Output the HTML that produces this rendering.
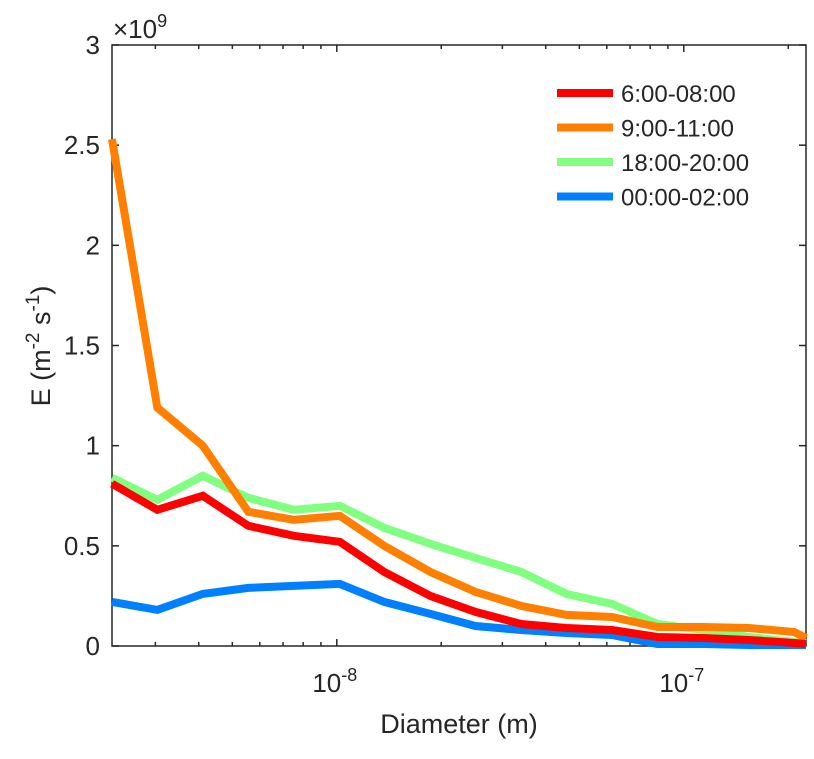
<!DOCTYPE html>
<html><head><meta charset="utf-8"><style>
body{margin:0;background:#fff;}
svg text{font-family:"Liberation Sans",sans-serif;fill:#262626;}
</style></head><body>
<svg id="chart" width="814" height="754">
<g id="axes"></g><g id="series"></g><g id="legend"></g>
</svg>
<script>
const seriesNames=["6:00-08:00","9:00-11:00","18:00-20:00","00:00-02:00"];
const seriesColors=["#ff0000","#ff8000","#80ff80","#0080ff"];
const red=[0.81,0.68,0.75,0.60,0.55,0.52,0.37,0.25,0.17,0.11,0.09,0.08,0.045,0.04,0.03,0.015,0.01];
const orange=[2.53,1.19,1.00,0.67,0.63,0.65,0.50,0.37,0.27,0.20,0.155,0.145,0.095,0.095,0.09,0.07,0.04];
const green=[0.84,0.73,0.85,0.74,0.68,0.70,0.59,0.51,0.44,0.37,0.26,0.21,0.11,0.08,0.045,0.02,0.015];
const blue=[0.22,0.18,0.26,0.29,0.30,0.31,0.22,0.16,0.10,0.08,0.065,0.055,0.01,0.01,0.005,0.005,0.005];
const diameters=[2.25e-9,3.04e-9,4.11e-9,5.56e-9,7.52e-9,1.02e-8,1.37e-8,1.86e-8,2.51e-8,3.40e-8,4.59e-8,6.21e-8,8.40e-8,1.14e-7,1.54e-7,2.08e-7,2.25e-7];
const yTicks=[0,0.5,1,1.5,2,2.5,3];
const yTickLabels=["0","0.5","1","1.5","2","2.5","3"];
const xMajor=[1e-8,1e-7];
const L=112,R=806,T=45,B=646;
const xmin=Math.log10(2.25e-9),xmax=Math.log10(2.25e-7);
const X=d=>L+(Math.log10(d)-xmin)/(xmax-xmin)*(R-L);
const Y=v=>B-v/3*(B-T);
const NS="http://www.w3.org/2000/svg";
function mk(tag,attrs,parent,txt){const e=document.createElementNS(NS,tag);for(const k in attrs)e.setAttribute(k,attrs[k]);if(txt!==undefined)e.textContent=txt;parent.appendChild(e);return e;}
const ax=document.getElementById('axes');
let box=mk('rect',{x:L,y:T,width:R-L,height:B-T,fill:'none',stroke:'#262626','stroke-width':1.5},ax);


yTicks.forEach((v,i)=>{
  const y=Y(v);
  mk('line',{x1:L,x2:L+7,y1:y,y2:y,stroke:'#262626','stroke-width':1.5},ax);
  mk('line',{x1:R,x2:R-7,y1:y,y2:y,stroke:'#262626','stroke-width':1.5},ax);
  const t=mk('text',{x:L-12,y:y+9,'text-anchor':'end','font-size':26},ax,yTickLabels[i]);
  
  
});
for(let e=-9;e<=-7;e++){for(let m=1;m<10;m++){const d=m*Math.pow(10,e);if(d<2.25e-9||d>2.25e-7)continue;const x=X(d);const len=m===1?7:4;
  mk('line',{x1:x,x2:x,y1:B,y2:B-len,stroke:'#262626','stroke-width':1.5},ax);mk('line',{x1:x,x2:x,y1:T,y2:T+len,stroke:'#262626','stroke-width':1.5},ax);}}
xMajor.forEach(d=>{const x=X(d);
  const t=mk('text',{x:x-2,y:B+46,'text-anchor':'middle','font-size':26},ax);
  
  
  mk('tspan',{},t,'10');mk('tspan',{dy:-11,'font-size':18},t,String(Math.round(Math.log10(d))));
});
let ex=mk('text',{x:113,y:38,'font-size':26},ax);


mk('tspan',{},ex,'\u00d710');mk('tspan',{dy:-11,'font-size':18},ex,'9');
let xt=mk('text',{x:459,y:733,'text-anchor':'middle','font-size':27},ax,'Diameter (m)');


let yt=mk('text',{transform:'translate(50,346) rotate(-90)','text-anchor':'middle','font-size':27},ax);


mk('tspan',{},yt,'E (m');mk('tspan',{dy:-11,'font-size':19},yt,'-2');mk('tspan',{dy:11},yt,' s');mk('tspan',{dy:-11,'font-size':19},yt,'-1');mk('tspan',{dy:11},yt,')');
const allSeries=[red,orange,green,blue];
const sg=document.getElementById('series');
const order=[3,2,1,0];
order.forEach(i=>{
  const pts=allSeries[i].map((v,k)=>X(diameters[k]).toFixed(1)+','+Y(v).toFixed(1)).join(' ');
  const p=mk('polyline',{points:pts,fill:'none',stroke:seriesColors[i],'stroke-width':8,'stroke-linejoin':'miter'},sg);
  
  
});
const lg=document.getElementById('legend');
seriesNames.forEach((n,i)=>{const y=93+i*34.5;
  const l=mk('line',{x1:557,x2:613,y1:y,y2:y,stroke:seriesColors[i],'stroke-width':8},lg);
  
  
  const t=mk('text',{x:621,y:y+9,'font-size':24},lg,n);
  
  
});
</script>
</body></html>
